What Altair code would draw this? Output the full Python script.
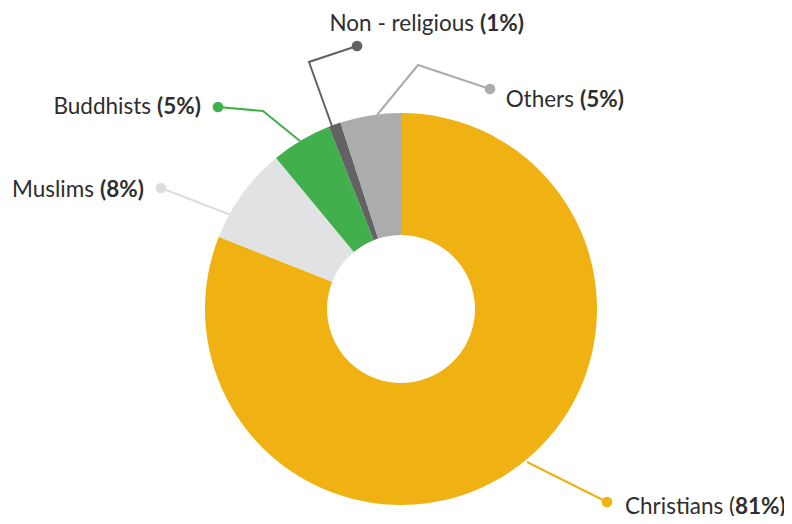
import altair as alt
import pandas as pd

# ---- data ----
groups = ["Christians", "Muslims", "Buddhists", "Non - religious", "Others"]
shares = [81, 8, 5, 1, 5]
slice_colors = ["#F0B213", "#E1E2E3", "#41AF4B", "#626264", "#ABACAE"]
leader_colors = ["#F0B213", "#DCDDDF", "#41AF4B", "#626264", "#ABACAE"]

# ---- layout (screen pixels) ----
CENTER = (401, 309)
R_OUT, R_IN = 196, 74
leader_pts = {
    "Christians": [(527, 462), (607, 502)],
    "Muslims": [(231, 215), (161, 188)],
    "Buddhists": [(300, 141), (263, 111), (218, 107)],
    "Non - religious": [(333, 129), (309, 62), (357, 46)],
    "Others": [(377, 115), (418, 65), (490, 89)],
}
# x where the bold part starts, baseline y, gap before bold part
label_join = {
    "Christians": (735, 514, 0),
    "Muslims": (100, 197, 6),
    "Buddhists": (157, 114, 6),
    "Non - religious": (480, 31, 6),
    "Others": (580, 107, 6),
}
FONT = "Lato"
FSIZE = 22.5
TEXT_COLOR = "#2e2e2e"

W, H = 776, 508
xs = alt.Scale(domain=[8, 8 + W], nice=False, zero=False)
ys = alt.Scale(domain=[8 + H, 8], nice=False, zero=False)
col = alt.Scale(domain=groups, range=leader_colors)

slices = pd.DataFrame({"group": groups, "share": shares, "idx": range(len(groups))})

arc = alt.Chart(slices).mark_arc(outerRadius=R_OUT, innerRadius=R_IN).encode(
    x=alt.X(datum=CENTER[0], type="quantitative", scale=xs, axis=None),
    y=alt.Y(datum=CENTER[1], type="quantitative", scale=ys, axis=None),
    theta=alt.Theta("share:Q", stack=True),
    order=alt.Order("idx:Q"),
    color=alt.Color("group:N", scale=alt.Scale(domain=groups, range=slice_colors), legend=None),
)

rows = []
for g in groups:
    for i, (px, py) in enumerate(leader_pts[g]):
        rows.append({"group": g, "seq": i, "x": px, "y": py})
lead = pd.DataFrame(rows)

lines = alt.Chart(lead).mark_line(strokeWidth=2).encode(
    x=alt.X("x:Q", scale=xs, axis=None),
    y=alt.Y("y:Q", scale=ys, axis=None),
    detail="group:N",
    order="seq:Q",
    color=alt.Color("group:N", scale=col, legend=None),
)

dots_df = pd.DataFrame([{"group": g, "x": leader_pts[g][-1][0], "y": leader_pts[g][-1][1]} for g in groups])
dots = alt.Chart(dots_df).mark_circle(size=115, opacity=1).encode(
    x=alt.X("x:Q", scale=xs, axis=None),
    y=alt.Y("y:Q", scale=ys, axis=None),
    color=alt.Color("group:N", scale=col, legend=None),
)

lab_rows = []
for g, s in zip(groups, shares):
    jx, by, gap = label_join[g]
    if g == "Christians":
        normal, bold = f"{g} (", f"{s}%)"
    else:
        normal, bold = g, f"({s}%)"
    lab_rows.append({"group": g, "normal": normal, "bold": bold, "xn": jx - gap, "xb": jx, "y": by})
labs = pd.DataFrame(lab_rows)

t_norm = alt.Chart(labs).mark_text(
    align="right", baseline="alphabetic", font=FONT, fontSize=FSIZE, color=TEXT_COLOR
).encode(
    x=alt.X("xn:Q", scale=xs, axis=None),
    y=alt.Y("y:Q", scale=ys, axis=None),
    text="normal:N",
)
t_bold = alt.Chart(labs).mark_text(
    align="left", baseline="alphabetic", font=FONT, fontSize=FSIZE, fontWeight="bold", color=TEXT_COLOR
).encode(
    x=alt.X("xb:Q", scale=xs, axis=None),
    y=alt.Y("y:Q", scale=ys, axis=None),
    text="bold:N",
)

chart = alt.layer(lines, arc, dots, t_norm, t_bold).resolve_scale(color="independent").properties(
    width=W, height=H, autosize=alt.AutoSizeParams(type="none"), padding=0
).configure_view(stroke=None)

chart.save("out.html", embed_options={"renderer": "svg", "actions": False})
